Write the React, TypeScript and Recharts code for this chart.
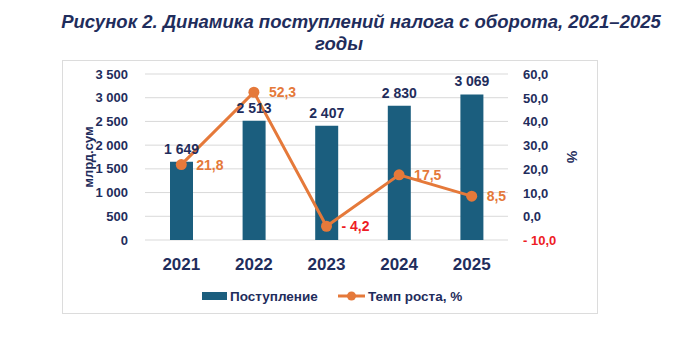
import { ComposedChart, Bar, Line, XAxis, YAxis, CartesianGrid, LabelList } from "recharts"

const years = ["2021", "2022", "2023", "2024", "2025"]
const revenue = [1649, 2513, 2407, 2830, 3069]
const growth = [21.8, 52.3, -4.2, 17.5, 8.5]
const leftTicks = [0, 500, 1000, 1500, 2000, 2500, 3000, 3500]
const rightTicks = [-10, 0, 10, 20, 30, 40, 50, 60]

const data = years.map((year, i) => ({ year, revenue: revenue[i], growth: growth[i] }))

const NAVY = "#1f2d5c"
const BAR = "#1b5e7e"
const ORANGE = "#e5793a"
const RED = "#ee1c25"
const FONT = "'Liberation Sans', Arial, sans-serif"

// non-breaking space keeps "1 649" on one line
const thousands = (v: number) => String(v).replace(/\B(?=(\d{3})+(?!\d))/g, "\u00a0")
const decimal = (v: number) => {
  const s = Math.abs(v).toFixed(1).replace(".", ",")
  return v < 0 ? "-\u00a0" + s : s
}

const RightTick = (props: any) => {
  const { x, y, payload } = props
  const v = payload.value
  return (
    <text x={x} y={y} dy={5} textAnchor="start" fontSize={13} fontWeight="bold" fill={v < 0 ? RED : NAVY} fontFamily={FONT}>
      {decimal(v)}
    </text>
  )
}

const GrowthLabel = (props: any) => {
  const { x, y, value } = props
  return (
    <text x={x + 15} y={y} dy={5} textAnchor="start" fontSize={14} fontWeight="bold" fill={value < 0 ? RED : ORANGE} fontFamily={FONT}>
      {decimal(value)}
    </text>
  )
}

const RevenueLabel = (props: any) => {
  const { x, y, width, value } = props
  return (
    <text x={x + width / 2} y={y - 8} textAnchor="middle" fontSize={14} fontWeight="bold" fill={NAVY} fontFamily={FONT}>
      {thousands(value)}
    </text>
  )
}

export default function App() {
  return (
    <div style={{ position: "absolute", left: 0, top: 0, width: 680, height: 355, background: "#fff", fontFamily: FONT }}>
      <div style={{ position: "absolute", left: 0, width: 722, top: 11, textAlign: "center", fontSize: 18.5, fontWeight: "bold", fontStyle: "italic", color: NAVY, whiteSpace: "nowrap" }}>
        Рисунок 2. Динамика поступлений налога с оборота, 2021–2025
      </div>
      <div style={{ position: "absolute", left: 0, width: 678, top: 33, textAlign: "center", fontSize: 18.5, fontWeight: "bold", fontStyle: "italic", color: NAVY }}>
        годы
      </div>
      <div style={{ position: "absolute", left: 62, top: 60, width: 536, height: 254, border: "1px solid #dcdcdc", boxSizing: "border-box" }} />

      <div style={{ position: "absolute", left: 0, top: 0 }}>
        <ComposedChart width={680} height={355} data={data} margin={{ top: 74, left: 85, right: 112, bottom: 85 }}>
          <CartesianGrid vertical={false} stroke="#d9d9d9" yAxisId="left" />
          <XAxis
            dataKey="year"
            axisLine={false}
            tickLine={false}
            tickMargin={12}
            height={30}
            tick={{ fontSize: 17, fontWeight: "bold", fill: NAVY, fontFamily: FONT }}
          />
          <YAxis
            yAxisId="left"
            domain={[0, 3500]}
            ticks={leftTicks}
            width={60}
            axisLine={false}
            tickLine={false}
            tickMargin={11}
            tickFormatter={thousands}
            tick={{ fontSize: 13, fontWeight: "bold", fill: NAVY, fontFamily: FONT }}
          />
          <YAxis
            yAxisId="right"
            orientation="right"
            domain={[-10, 60]}
            ticks={rightTicks}
            width={60}
            axisLine={false}
            tickLine={false}
            tickMargin={9}
            tick={<RightTick />}
          />
          <Bar yAxisId="left" dataKey="revenue" fill={BAR} barSize={23} isAnimationActive={false}>
            <LabelList dataKey="revenue" content={<RevenueLabel />} />
          </Bar>
          <Line
            yAxisId="right"
            dataKey="growth"
            stroke={ORANGE}
            strokeWidth={3}
            dot={{ r: 5.5, fill: ORANGE, stroke: ORANGE, strokeWidth: 0 }}
            isAnimationActive={false}
          >
            <LabelList dataKey="growth" content={<GrowthLabel />} />
          </Line>
        </ComposedChart>
      </div>

      <svg style={{ position: "absolute", left: 0, top: 0 }} width={680} height={355}>
        <text x={88} y={157} transform="rotate(-90 88 157)" textAnchor="middle" dy={5} fontSize={13} fontWeight="bold" fill={NAVY} fontFamily={FONT}>
          млрд.сум
        </text>
        <text x={572} y={157} transform="rotate(90 572 157)" textAnchor="middle" dy={5} fontSize={14} fontWeight="bold" fill={NAVY} fontFamily={FONT}>
          %
        </text>
        <rect x={202} y={292} width={25} height={8} fill={BAR} />
        <text x={230} y={301} fontSize={13.5} fontWeight="bold" fill={NAVY} fontFamily={FONT}>Поступление</text>
        <line x1={338} y1={296} x2={365} y2={296} stroke={ORANGE} strokeWidth={3} />
        <circle cx={351.5} cy={296} r={4.5} fill={ORANGE} />
        <text x={368} y={301} fontSize={13.5} fontWeight="bold" fill={NAVY} fontFamily={FONT}>Темп роста, %</text>
      </svg>
    </div>
  )
}
